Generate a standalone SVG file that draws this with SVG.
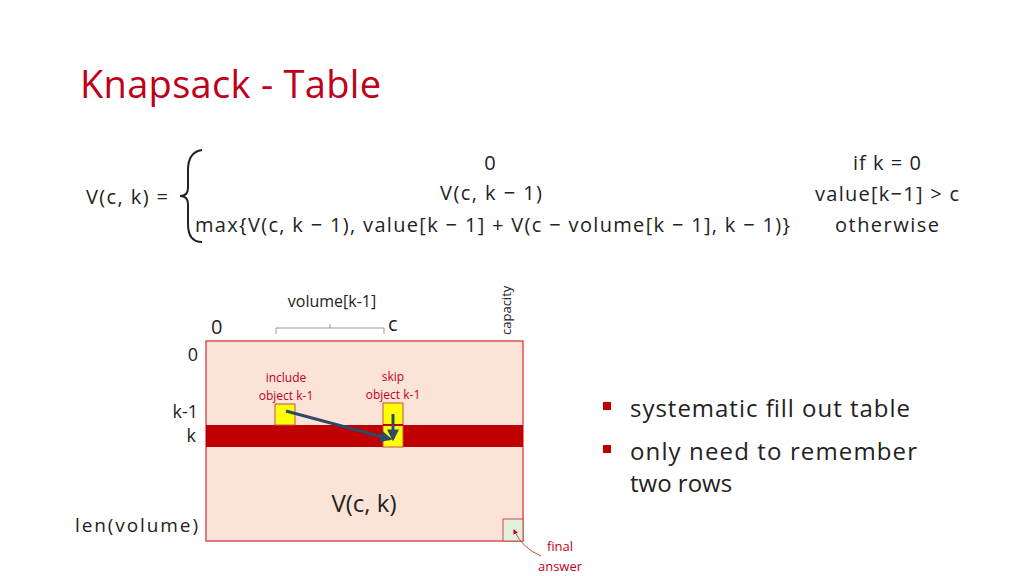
<svg xmlns="http://www.w3.org/2000/svg" width="1024" height="576" viewBox="0 0 1024 576">
<style>
text{font-family:"Open Sans","Noto Sans",sans-serif;fill:#222}
.f{font-size:20px}
.r{fill:#c0001a}
.s{font-size:12px}
</style>
<defs>
<marker id="a" viewBox="0 0 10 10" refX="8" refY="5" markerWidth="4" markerHeight="4" orient="auto"><path d="M0,0L10,5L0,10z" fill="#2e4a6b"/></marker>
<marker id="b" viewBox="0 0 10 10" refX="8" refY="5" markerWidth="5" markerHeight="5" orient="auto"><path d="M0,0L10,5L0,10z" fill="#c0001a"/></marker>
</defs>
<rect width="1024" height="576" fill="#fff"/>
<text x="80" y="98" style="font-size:38px;fill:#c0001a;letter-spacing:-1px" textLength="300">Knapsack - Table</text>
<g id="formula">
<text x="86" y="204" class="f" textLength="82">V(c, k) =</text>
<path d="M202,150 Q188,152 188,170 L188,188 Q188,196 180,196 Q188,196 188,204 L188,224 Q188,242 202,242" fill="none" stroke="#222" stroke-width="2"/>
<text x="490" y="170" class="f" text-anchor="middle">0</text>
<text x="440" y="200" class="f" textLength="102">V(c, k − 1)</text>
<text x="195" y="232" class="f" textLength="595">max{V(c, k − 1), value[k − 1] + V(c − volume[k − 1], k − 1)}</text>
<text x="853" y="170" class="f" textLength="68">if k = 0</text>
<text x="815" y="201" class="f" textLength="144">value[k−1] &gt; c</text>
<text x="835" y="232" class="f" textLength="104">otherwise</text>
</g>
<g id="table">
<rect x="206" y="341" width="317" height="200" fill="#fbe3d8" stroke="#d9505a" stroke-width="1.5"/>
<rect x="206" y="425" width="317" height="22" fill="#c00000"/>
<rect x="275" y="404" width="20" height="21" fill="#ffff00" stroke="#c0504d"/>
<rect x="383" y="403" width="20" height="44" fill="#ffff00" stroke="#c0504d"/>
<line x1="383" y1="425" x2="403" y2="425" stroke="#c00000" stroke-width="2"/>
<rect x="503" y="519" width="20" height="22" fill="#e2efda" stroke="#c0504d"/>
<text x="364" y="512" style="font-size:24px" text-anchor="middle">V(c, k)</text>
<text x="286" y="382" class="s r" text-anchor="middle">include</text>
<text x="286" y="400" class="s r" text-anchor="middle">object k-1</text>
<text x="393" y="381" class="s r" text-anchor="middle">skip</text>
<text x="393" y="399" class="s r" text-anchor="middle">object k-1</text>
<text x="560" y="551" class="s r" style="font-size:13px" text-anchor="middle">final</text>
<text x="560" y="571" class="s r" style="font-size:13px" text-anchor="middle">answer</text>
</g>
<g id="labels">
<text x="332" y="307" style="font-size:16px" text-anchor="middle">volume[k-1]</text>
<path d="M276,334 V328 H384 V334 M330,328 V324" fill="none" stroke="#999" stroke-width="1"/>
<text x="211" y="334" style="font-size:20px">0</text>
<text x="388" y="331" style="font-size:20px">c</text>
<text x="511" y="335" style="font-size:13px" transform="rotate(-90 511 335)">capacity</text>
<text x="198" y="361" text-anchor="end" style="font-size:18px">0</text>
<text x="198" y="418" text-anchor="end" style="font-size:18px">k-1</text>
<text x="196" y="442" text-anchor="end" style="font-size:18px">k</text>
<text x="75" y="532" style="font-size:19px" textLength="123">len(volume)</text>
</g>
<g id="connectors">
<line x1="286" y1="411" x2="390" y2="439" stroke="#2e4a6b" stroke-width="3" marker-end="url(#a)"/>
<line x1="393" y1="414" x2="393" y2="439" stroke="#2e4a6b" stroke-width="3" marker-end="url(#a)"/>
<path d="M541,556 Q522,548 514,530" fill="none" stroke="#c0504d" stroke-width="1" marker-end="url(#b)"/>
</g>
<g id="bullets">
<rect x="603" y="402" width="8" height="8" fill="#c00000"/>
<text x="630" y="417" style="font-size:24px" textLength="280">systematic fill out table</text>
<rect x="603" y="445" width="8" height="8" fill="#c00000"/>
<text x="630" y="460" style="font-size:24px" textLength="287">only need to remember</text>
<text x="630" y="492" style="font-size:24px">two rows</text>
</g>
</svg>
